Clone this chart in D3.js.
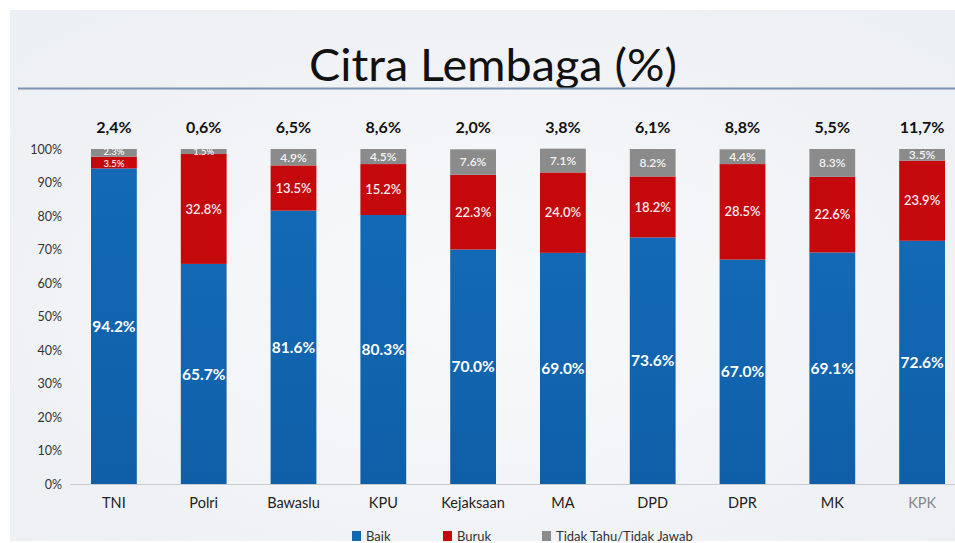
<!DOCTYPE html>
<html>
<head>
<meta charset="utf-8">
<script src="https://cdn.jsdelivr.net/npm/d3@7"></script>
<style>
  body { margin: 0; background: #fff; }
  svg text { font-family: Lato, "Open Sans", sans-serif; }
</style>
</head>
<body>
<div id="chart"></div>
<script>
// data
const categories = ['TNI', 'Polri', 'Bawaslu', 'KPU', 'Kejaksaan', 'MA', 'DPD', 'DPR', 'MK', 'KPK'];
const baik = [94.2, 65.7, 81.6, 80.3, 70.0, 69.0, 73.6, 67.0, 69.1, 72.6];
const buruk = [3.5, 32.8, 13.5, 15.2, 22.3, 24.0, 18.2, 28.5, 22.6, 23.9];
const tidakTahu = [2.3, 1.5, 4.9, 4.5, 7.6, 7.1, 8.2, 4.4, 8.3, 3.5];
const topLabels = ['2,4%', '0,6%', '6,5%', '8,6%', '2,0%', '3,8%', '6,1%', '8,8%', '5,5%', '11,7%'];
const seriesNames = ['Baik', 'Buruk', 'Tidak Tahu/Tidak Jawab'];
const yTicks = [0, 10, 20, 30, 40, 50, 60, 70, 80, 90, 100];

const width = 955, height = 543;
const colors = ['#1366b2', '#c4080c', '#8b8b8b'];

let svg = d3.select('#chart').append('svg')
  .attr('width', width)
  .attr('height', height);

let defs = svg.append('defs');
let bg = defs.append('radialGradient')
  .attr('id', 'bg')
  .attr('cx', '50%').attr('cy', '55%').attr('r', '70%');
bg.append('stop').attr('offset', '0%').attr('stop-color', '#f8f9fa');
bg.append('stop').attr('offset', '100%').attr('stop-color', '#eceff3');

let blueGrad = defs.append('linearGradient')
  .attr('id', 'blueGrad')
  .attr('x1', 0).attr('y1', 0).attr('x2', 0).attr('y2', 1);
blueGrad.append('stop').attr('offset', '0%').attr('stop-color', '#1369b5');
blueGrad.append('stop').attr('offset', '100%').attr('stop-color', '#0f5fa8');

// slide background
svg.append('rect')
  .attr('x', 10).attr('y', 10)
  .attr('width', width - 10).attr('height', height - 12)
  .attr('fill', 'url(#bg)');

// title + rule
svg.append('text')
  .attr('x', 493)
  .attr('y', 81)
  .attr('text-anchor', 'middle')
  .attr('font-size', 44)
  .attr('fill', '#111')
  .attr('textLength', 368)
  .attr('lengthAdjust', 'spacingAndGlyphs')
  .text('Citra Lembaga (%)');

svg.append('line')
  .attr('x1', 18).attr('x2', width)
  .attr('y1', 88.5).attr('y2', 88.5)
  .attr('stroke', '#7a93b4')
  .attr('stroke-width', 2);

// scales
let x = d3.scaleBand()
  .domain(categories)
  .range([69, 967])
  .paddingInner(0.49)
  .paddingOuter(0.245);

let y = d3.scaleLinear()
  .domain([0, 100])
  .range([484, 149]);

let rows = categories.map((c, i) => ({
  cat: c, baik: baik[i], buruk: buruk[i], tt: tidakTahu[i], top: topLabels[i]
}));

let stack = d3.stack().keys(['baik', 'buruk', 'tt']);
let layers = stack(rows);

// baseline
svg.append('line')
  .attr('x1', 70).attr('x2', width)
  .attr('y1', y(0) + 0.5).attr('y2', y(0) + 0.5)
  .attr('stroke', '#c8cbd0')
  .attr('stroke-width', 1);

// y axis
let yAxis = svg.append('g')
  .attr('transform', 'translate(62,0)')
  .call(d3.axisLeft(y).tickValues(yTicks).tickSize(0).tickPadding(0).tickFormat(d => d + '%'));
yAxis.select('.domain').remove();
yAxis.selectAll('text')
  .attr('font-size', 12.5)
  .attr('fill', '#333')
  .style('font-family', 'Lato, sans-serif');

// bars
let fills = ['url(#blueGrad)', colors[1], colors[2]];
let layerG = svg.append('g').attr('class', 'bars')
  .selectAll('g')
  .data(layers)
  .enter().append('g')
  .attr('fill', (d, i) => fills[i]);

layerG.selectAll('rect')
  .data(d => d)
  .enter().append('rect')
  .attr('x', d => x(d.data.cat))
  .attr('y', d => y(d[1]))
  .attr('width', x.bandwidth())
  .attr('height', d => y(d[0]) - y(d[1]));

// segment labels (thin segments get a smaller font so they fit)
let labelSize = [15.5, 13, 12];
let labelFill = ['#ffffff', '#ffecec', '#f4f4f4'];
let labelWeight = ['bold', '600', '600'];
// nudge for the very thin TNI segments so the two labels don't collide
let nudge = [0, 1, -1];
let small = d => d.data.cat === 'TNI' || (d[1] - d[0]) < 2;
layers.forEach((layer, li) => {
  svg.append('g').selectAll('text')
    .data(layer)
    .enter().append('text')
    .attr('x', d => x(d.data.cat) + x.bandwidth() / 2)
    .attr('y', d => y((d[0] + d[1]) / 2) + (d.data.cat === 'TNI' ? nudge[li] : 0))
    .attr('dy', '0.36em')
    .attr('text-anchor', 'middle')
    .attr('font-size', d => li > 0 && small(d) ? 9.5 : labelSize[li])
    .attr('font-weight', labelWeight[li])
    .attr('fill', labelFill[li])
    .text(d => (d[1] - d[0]).toFixed(1) + '%');
});

// numbers above bars
svg.append('g').selectAll('text')
  .data(rows)
  .enter().append('text')
  .attr('x', d => x(d.cat) + x.bandwidth() / 2)
  .attr('y', 133)
  .attr('text-anchor', 'middle')
  .attr('font-size', 16)
  .attr('font-weight', 'bold')
  .attr('fill', '#111')
  .text(d => d.top);

// x axis labels
let xAxis = svg.append('g')
  .attr('transform', `translate(0,${y(0)})`)
  .call(d3.axisBottom(x).tickSize(0).tickPadding(14));
xAxis.select('.domain').remove();
xAxis.selectAll('text')
  .attr('font-size', 14.5)
  .attr('fill', (d) => d === 'KPK' ? '#888' : '#222')
  .style('font-family', 'Lato, sans-serif');

// legend
let legendX = [352, 443, 542];
let legend = svg.append('g').selectAll('g')
  .data(seriesNames)
  .enter().append('g')
  .attr('transform', (d, i) => `translate(${legendX[i]},531)`);
legend.append('rect')
  .attr('width', 9).attr('height', 10)
  .attr('fill', (d, i) => colors[i]);
legend.append('text')
  .attr('x', 14)
  .attr('y', 10)
  .attr('font-size', 13)
  .attr('fill', '#333')
  .text(d => d);
</script>
</body>
</html>
